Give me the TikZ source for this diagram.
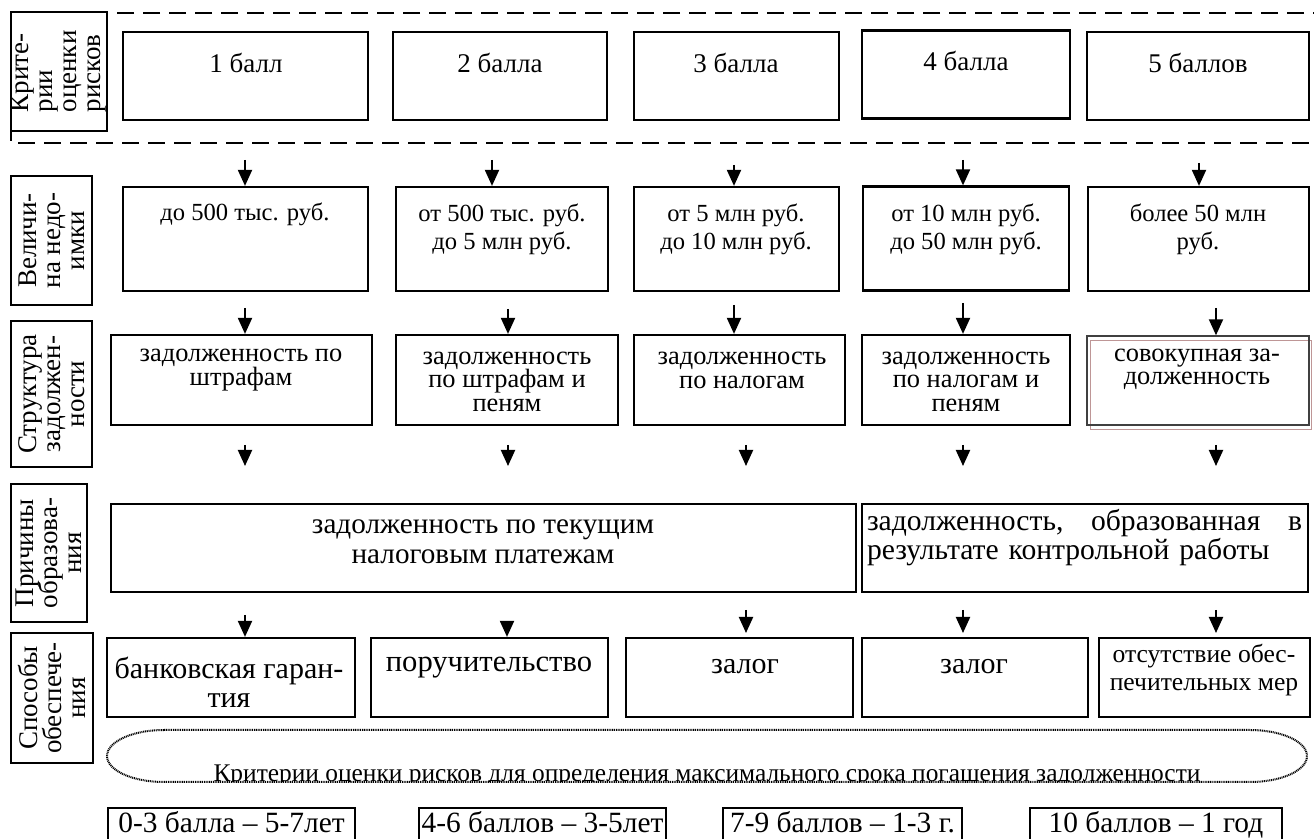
\documentclass[tikz,border=0pt]{standalone}
\usepackage{fontspec}
\setmainfont{Liberation Serif}
\usetikzlibrary{arrows.meta}

\newcommand\tightlines{\lineskiplimit=-6pt\relax}

\tikzset{
  cell/.style={draw, line width=1.1pt},
  lab/.style={draw, line width=1pt, fill=white, rotate=90, align=center, inner sep=0pt,
    font=\fontsize{13.5}{12}\selectfont\tightlines},
  txt/.style={align=center, inner sep=0pt},
  dots/.style={line width=1pt, dash pattern=on 0.5pt off 0.4pt},
}

\begin{document}
\begin{tikzpicture}[x=0.5pt, y=-0.5pt, line width=1pt, >={Triangle[length=8pt,width=7pt]}]
            \useasboundingbox (0,0) rectangle (1314,839);
            % criteria (points)
            \draw [dash pattern=on 8.5pt off 4.5pt] (1330,13) -- (11,13) -- (11,143) -- (1330,143);
            \node [lab, align=left, minimum width=59.5pt, minimum height=48pt] (lbal) at (59,71.5) {Крите-\\рии\\оценки\\рисков};
            \node [cell, minimum width=122.5pt, minimum height=44pt] (bal1) at (245.5,76) {};
            \node [cell, minimum width=107pt, minimum height=44pt] (bal2) at (500,76) {};
            \node [cell, minimum width=102.5pt, minimum height=44pt] (bal3) at (736.5,76) {};
            \node [cell, minimum width=104pt, minimum height=44pt] (bal4) at (966,74.5) {};
            \node [cell, minimum width=111pt, minimum height=44pt] (bal5) at (1198,76) {};
            \node [txt, font=\fontsize{13.5}{14}\selectfont] (bal1t) at (246,63) {1 балл};
            \node [txt, font=\fontsize{13.5}{14}\selectfont] (bal2t) at (500,63) {2 балла};
            \node [txt, font=\fontsize{13.5}{14}\selectfont] (bal3t) at (736,63) {3 балла};
            \node [txt, font=\fontsize{13.5}{14}\selectfont] (bal4t) at (966,61) {4 балла};
            \node [txt, font=\fontsize{13.5}{14}\selectfont] (bal5t) at (1198,63) {5 баллов};
            % amount of arrears
            \node [lab, minimum width=64.5pt, minimum height=40.5pt] (lned) at (51.5,240.5) {Величи-\\на недо-\\имки};
            \node [cell, minimum width=122.5pt, minimum height=52pt] (ned1) at (245.5,239) {};
            \node [cell, minimum width=106pt, minimum height=52pt] (ned2) at (502,239) {};
            \node [cell, minimum width=102.5pt, minimum height=52pt] (ned3) at (736.5,239) {};
            \node [cell, minimum width=103pt, minimum height=52pt] (ned4) at (966,238.5) {};
            \node [cell, minimum width=110.5pt, minimum height=52pt] (ned5) at (1198.5,239) {};
            \node [txt, font=\fontsize{12.3}{14}\selectfont] (ned1t) at (245,214) {до 500 тыс. руб.};
            \node [txt, font=\fontsize{12.3}{14}\selectfont] (ned2t) at (502,229) {от 500 тыс. руб.\\до 5 млн руб.};
            \node [txt, font=\fontsize{12.3}{14}\selectfont] (ned3t) at (736,229) {от 5 млн руб.\\до 10 млн руб.};
            \node [txt, font=\fontsize{12.3}{14}\selectfont] (ned4t) at (966,229) {от 10 млн руб.\\до 50 млн руб.};
            \node [txt, font=\fontsize{12.3}{14}\selectfont] (ned5t) at (1198,229) {более 50 млн\\руб.};
            % structure of arrears
            \node [lab, minimum width=73pt, minimum height=40.5pt] (lstr) at (51.5,394) {Структура\\задолжен-\\ности};
            \node [cell, minimum width=130.5pt, minimum height=45pt] (str1) at (241.5,380) {};
            \node [cell, minimum width=111pt, minimum height=45pt] (str2) at (507,380) {};
            \node [cell, minimum width=105.5pt, minimum height=45pt] (str3) at (739.5,380) {};
            \node [cell, minimum width=104pt, minimum height=45pt] (str4) at (966,380) {};
            \node [draw, line width=0.5pt, color={rgb,255:red,190;green,150;blue,150}, minimum width=110.5pt, minimum height=44.5pt] (str5b) at (1200.5,385.5) {};
            \node [draw, line width=0.7pt, color=black!75, minimum width=111pt, minimum height=44.5pt] (str5) at (1198,380.5) {};
            \node [txt, font=\fontsize{13.2}{11.75}\selectfont\tightlines] (str1t) at (241,370) {задолженность по\\штрафам};
            \node [txt, font=\fontsize{13.2}{11.75}\selectfont\tightlines] (str2t) at (507,381.5) {задолженность\\по штрафам и\\пеням};
            \node [txt, font=\fontsize{13.2}{11.75}\selectfont\tightlines] (str3t) at (742,370.5) {задолженность\\по налогам};
            \node [txt, font=\fontsize{13.2}{11.75}\selectfont\tightlines] (str4t) at (966,381.5) {задолженность\\по налогам и\\пеням};
            \node [txt, font=\fontsize{13.2}{11.75}\selectfont\tightlines] (str5t) at (1197,369.5) {совокупная за-\\долженность};
            % causes
            \node [lab, minimum width=69pt, minimum height=38pt] (lpri) at (49,553) {Причины\\образова-\\ния};
            \node [cell, minimum width=372.5pt, minimum height=44pt] (pri1) at (483.5,548) {};
            \node [cell, minimum width=223pt, minimum height=44pt] (pri2) at (1085,548) {};
            \node [txt, font=\fontsize{14.6}{15}\selectfont] (pri1t) at (483,542) {задолженность по текущим\\налоговым платежам};
            \node [txt, align=left, text width=217.5pt, font=\fontsize{14.8}{14.5}\selectfont] (pri2t) at (1084.5,537.5) {задолженность,\hfill образованная\hfill в\\результате контрольной работы};
            % security
            \node [lab, minimum width=65pt, minimum height=41pt] (lobs) at (52,698) {Способы\\обеспече-\\ния};
            \node [cell, minimum width=124pt, minimum height=39.5pt] (obs1) at (231,677.5) {};
            \node [cell, minimum width=118.5pt, minimum height=39.5pt] (obs2) at (489.5,677.5) {};
            \node [cell, minimum width=113.5pt, minimum height=39.5pt] (obs3) at (739.5,677.5) {};
            \node [cell, minimum width=113pt, minimum height=39.5pt] (obs4) at (975,677.5) {};
            \node [cell, minimum width=105.5pt, minimum height=39.5pt] (obs5) at (1204.5,677.5) {};
            \node [txt, font=\fontsize{15}{14.5}\selectfont] (obs1t) at (229,682.5) {банковская гаран-\\тия};
            \node [txt, font=\fontsize{15.3}{14.5}\selectfont] (obs2t) at (489,668) {поручительство};
            \node [txt, font=\fontsize{15}{14.5}\selectfont] (obs3t) at (745,667) {залог};
            \node [txt, font=\fontsize{15}{14.5}\selectfont] (obs4t) at (974,667) {залог};
            \node [txt, font=\fontsize{12.8}{13.8}\selectfont] (obs5t) at (1204,670) {отсутствие обес-\\печительных мер};
            % repayment terms
            \coordinate (krit) at (707,756);
            \begin{scope}
              \clip (164,730) -- (1250,730) arc [start angle=90, end angle=-90, x radius=28.5pt, y radius=13pt]
                -- (164,782) arc [start angle=270, end angle=90, x radius=28.5pt, y radius=13pt] -- cycle;
              \node [txt, anchor=base, font=\fontsize{12.7}{14}\selectfont] (kritt) at (707,782) {Критерии оценки рисков для определения максимального срока погашения задолженности};
            \end{scope}
            \draw [dots] (164,730) -- (1250,730) arc [start angle=90, end angle=-90, x radius=28.5pt, y radius=13pt]
                -- (164,782) arc [start angle=270, end angle=90, x radius=28.5pt, y radius=13pt] -- cycle;
            \node [cell, txt, text height=9.5pt, text depth=3pt, minimum width=123.5pt, minimum height=18pt, font=\fontsize{14.7}{14}\selectfont] (srok1) at (231.5,826) {0-3 балла – 5-7лет};
            \node [cell, txt, text height=9.5pt, text depth=3pt, minimum width=123.5pt, minimum height=18pt, font=\fontsize{14.7}{14}\selectfont] (srok2) at (542.5,826) {4-6 баллов – 3-5лет};
            \node [cell, txt, text height=9.5pt, text depth=3pt, minimum width=119.5pt, minimum height=18pt, font=\fontsize{14.7}{14}\selectfont] (srok3) at (842.5,826) {7-9 баллов – 1-3 г.};
            \node [cell, txt, text height=9.5pt, text depth=3pt, minimum width=126pt, minimum height=18pt, font=\fontsize{14.7}{14}\selectfont] (srok4) at (1156,826) {10 баллов – 1 год};
            % arrows
            \coordinate (a1) at (245,160);
            \coordinate (a2) at (492,160);
            \coordinate (a3) at (734,165);
            \coordinate (a4) at (963,160);
            \coordinate (a5) at (1199,163);
            \draw [->] (a1) -- (a1 |- ned1.north);
            \draw [->] (a2) -- (a2 |- ned2.north);
            \draw [->] (a3) -- (a3 |- ned3.north);
            \draw [->] (a4) -- (a4 |- ned4.north);
            \draw [->] (a5) -- (a5 |- ned5.north);
            \coordinate (b1) at (245,308);
            \coordinate (b2) at (508,309);
            \coordinate (b3) at (734,305);
            \coordinate (b4) at (963,303);
            \coordinate (b5) at (1216,308);
            \draw [->] (b1) -- (b1 |- str1.north);
            \draw [->] (b2) -- (b2 |- str2.north);
            \draw [->] (b3) -- (b3 |- str3.north);
            \draw [->] (b4) -- (b4 |- str4.north);
            \draw [->] (b5) -- (b5 |- str5.north);
            \coordinate (c1) at (245,445); \coordinate (c1e) at (245,466);
            \coordinate (c2) at (508,445); \coordinate (c2e) at (508,466);
            \coordinate (c3) at (746,445); \coordinate (c3e) at (746,466);
            \coordinate (c4) at (963,445); \coordinate (c4e) at (963,466);
            \coordinate (c5) at (1216,445); \coordinate (c5e) at (1216,466);
            \draw [->] (c1) -- (c1e);
            \draw [->] (c2) -- (c2e);
            \draw [->] (c3) -- (c3e);
            \draw [->] (c4) -- (c4e);
            \draw [->] (c5) -- (c5e);
            \coordinate (d1) at (245,615);
            \coordinate (d2) at (507,622);
            \coordinate (d3) at (746,610); \coordinate (d3e) at (746,633);
            \coordinate (d4) at (963,610); \coordinate (d4e) at (963,633);
            \coordinate (d5) at (1216,610); \coordinate (d5e) at (1216,633);
            \draw [->] (d1) -- (d1 |- obs1.north);
            \draw [->] (d2) -- (d2 |- obs2.north);
            \draw [->] (d3) -- (d3e);
            \draw [->] (d4) -- (d4e);
            \draw [->] (d5) -- (d5e);
        \end{tikzpicture}
\end{document}
